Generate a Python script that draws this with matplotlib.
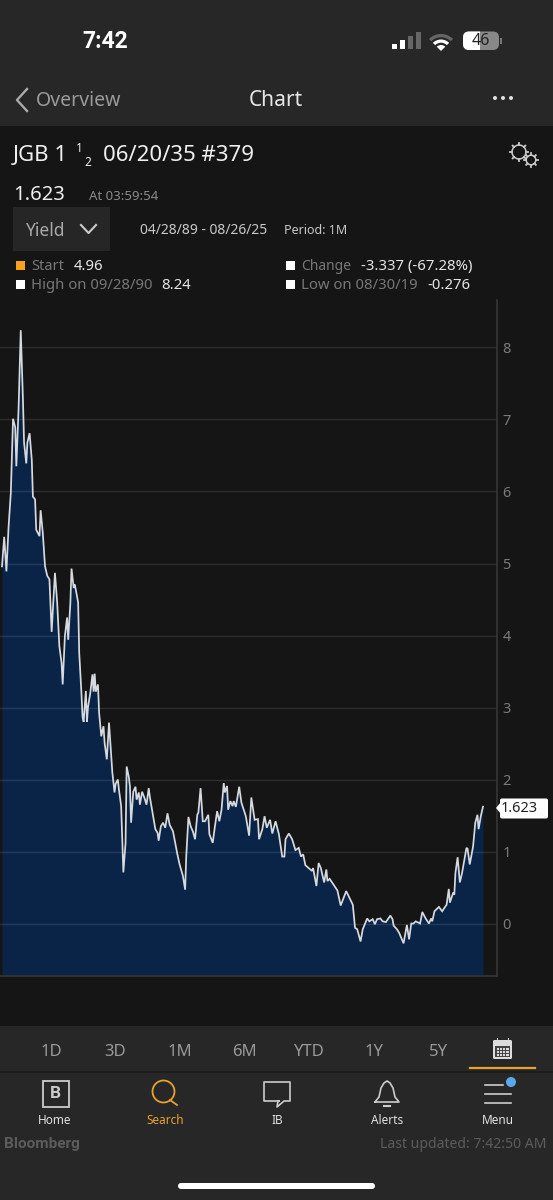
import matplotlib
matplotlib.use("Agg")
import matplotlib.pyplot as plt
import numpy as np
from matplotlib.patches import Rectangle, FancyBboxPatch, Circle, Wedge, Polygon

plt.rcParams['font.family'] = ['Noto Sans', 'DejaVu Sans']

# months since April 1989
months = [0,2,4,6,8,10,12,13,15,17,19,20,22,23,25,27,28,30,31,34,35,37,39,41,43,45,47,48,50,52,54,55,57,59,60,
          62,63,65,66,68,69,70,72,73,74,76,77,78,80,82,83,84,85,87,88,90,92,93,95,97,99,100,102,103,105,106,108,
          110,112,113,115,116,117,119,121,122,124,125,127,129,131,133,134,136,139,141,142,144,146,148,150,152,155,
          157,159,161,164,166,167,169,171,173,175,177,178,180,182,184,187,188,191,193,195,197,199,201,202,204,205,
          207,209,210,212,215,217,221,224,226,229,232,233,236,238,240,243,245,248,251,254,256,257,260,263,266,269,
          271,273,275,281,282,285,287,289,292,294,295,297,304,307,312,318,320,322,325,327,331,333,336,338,340,343,
          345,348,352,354,355,358,360,364,367,369,371,373,375,379,381,384,387,389,390,392,396,399,402,403,405,406,
          409,410,411,413,415,417,421,422,424,427,429,431,432,434,436]
yields = [4.96,5.37,4.89,5.52,5.98,7.01,6.89,6.35,7.14,8.24,7.27,6.68,6.39,6.68,6.81,6.44,5.93,5.89,5.47,5.38,5.74,
          5.42,4.96,4.83,4.78,4.05,4.59,4.87,4.46,3.85,3.62,3.32,3.99,4.25,3.94,4.46,4.93,4.66,4.71,4.54,4.46,3.76,
          3.20,2.87,2.80,3.23,2.80,3.01,3.20,3.46,3.22,3.47,3.22,3.32,2.93,2.60,2.74,2.51,2.28,2.79,2.32,2.10,1.82,
          1.94,2.00,1.86,1.63,0.71,1.12,2.18,2.03,1.90,1.40,1.83,1.90,1.72,1.82,1.65,1.83,1.75,1.65,1.88,1.76,1.58,
          1.31,1.26,1.15,1.35,1.40,1.33,1.53,1.37,1.28,1.12,0.96,0.82,0.66,0.47,0.93,1.48,1.35,1.28,1.17,1.51,1.54,
          1.88,1.42,1.42,1.51,1.24,1.12,1.35,1.56,1.42,1.58,1.95,1.82,1.91,1.58,1.70,1.63,1.70,1.62,1.90,1.68,1.49,
          1.22,1.75,1.44,1.45,1.17,1.31,1.49,1.33,1.44,1.25,1.42,1.24,0.93,0.93,1.17,1.25,1.17,1.02,1.05,0.93,0.96,
          0.81,0.73,0.77,0.52,0.84,0.77,0.57,0.75,0.59,0.62,0.46,0.25,0.45,0.26,-0.06,-0.08,-0.25,-0.08,0.07,0.03,
          0.06,-0.01,0.06,0.07,0.03,0.02,0.11,0.06,-0.03,-0.08,-0.13,-0.276,-0.02,-0.22,0.0,0.0,0.03,0.0,0.16,0.07,
          0.0,0.07,0.03,0.17,0.23,0.17,0.24,0.26,0.48,0.29,0.43,0.40,0.70,0.92,0.57,0.70,1.05,1.04,0.82,1.07,1.40,
          1.51,1.31,1.49,1.623]
ytick_vals = [0,1,2,3,4,5,6,7,8]
ranges = ['1D','3D','1M','6M','YTD','1Y','5Y']
nav_labels = ['Home','Search','IB','Alerts','Menu']

W, H = 553, 1200
BG = '#151515'; BAR = '#272727'; FILL = '#0a2448'
fig = plt.figure(figsize=(W/100, H/100), dpi=100, facecolor=BG)

ui = fig.add_axes([0,0,1,1], zorder=0)
ui.set_xlim(0,W); ui.set_ylim(H,0); ui.axis('off')

def T(x,y,s,size=10,c='#ffffff',ha='left',va='center',**k):
    ui.text(x,y+1.5,s,fontsize=size,color=c,ha=ha,va=va,**k)

ui.add_patch(Rectangle((0,0),W,126,fc=BAR,ec='none'))
ui.add_patch(Rectangle((0,1026),W,174,fc=BAR,ec='none'))
ui.plot([0,W],[1071.5,1071.5],color='#1a1a1a',lw=1.2)

# status bar
T(105,39.5,'7:42',16.5,'#ffffff',ha='center',fontweight='bold',family='Roboto')
for x,h,c in zip([393,401,409,417],[5,9,13,17],['#fff','#fff','#666','#666']):
    ui.add_patch(Rectangle((x-1,49-h),5,h,fc=c,ec='none'))
for r,c in zip([17,11.5,6],['#666','#fff','#fff']):
    ui.add_patch(Wedge((441,51),r,-135,-45,width=3.2 if r>6 else 6,fc=c,ec='none'))
batt = FancyBboxPatch((463,31.5),36,18.5,boxstyle='round,pad=0,rounding_size=6',fc='#888888',ec='none')
ui.add_patch(batt)
white = Rectangle((463,31),17,20,fc='#ffffff',ec='none')
ui.add_patch(white); white.set_clip_path(batt)
T(481,39.5,'46',11.5,'#222222',ha='center')
ui.add_patch(Rectangle((500,38),2,6,fc='#777777',ec='none'))

# nav
ui.plot([27,17,27],[89,100,111],color='#aaaaaa',lw=1.7)
T(36,99,'Overview',14,'#9a9a9a')
T(276,99,'Chart',15,'#e6e6e6',ha='center',fontweight='medium')
for x in [495,503,511]:
    ui.add_patch(Circle((x,98),2,fc='#e0e0e0',ec='none'))

# header
T(13,154,'JGB 1',16,'#f0f0f0')
T(76,147,'1',8.5,'#f0f0f0'); T(84,161,'2',8.5,'#f0f0f0')
T(103,154,'06/20/35 #379',16,'#f0f0f0')
for cx,cy,r,nt in [(519,152,7,8),(531,160,4.8,8)]:
    ui.add_patch(Circle((cx,cy),r,fc='none',ec='#cccccc',lw=1.1))
    for a in np.linspace(0,2*np.pi,nt,endpoint=False):
        ui.plot([cx+r*np.cos(a),cx+(r+2)*np.cos(a)],[cy+r*np.sin(a),cy+(r+2)*np.sin(a)],color='#cccccc',lw=1.3)
T(13,193.5,'1.623',14.5,'#eeeeee')
T(89,195,'At 03:59:54',9.5,'#8a8a8a')
ui.add_patch(Rectangle((13,207),97,44,fc='#262626',ec='none'))
T(25,229.5,'Yield',12.5,'#aaaaaa')
ui.plot([81,88.5,96],[225,233,225],color='#cccccc',lw=1.5)
T(140,229,'04/28/89 - 08/26/25',10,'#c8c8c8')
T(284,229,'Period: 1M',9,'#c8c8c8')

rows = [(16,266,'#f7a020','Start','4.96',31,74,10.5),(16,285,'#ffffff','High on 09/28/90','8.24',31,161,10.7),
        (286,266,'#ffffff','Change','-3.337 (-67.28%)',301,361,10),(286,285,'#ffffff','Low on 08/30/19','-0.276',301,427,10.7)]
for sx,y,c,l,v,lx,vx,ls in rows:
    ui.add_patch(Rectangle((sx,y-5),9,9,fc=c,ec='none'))
    T(lx,y-1,l,ls,'#777777'); T(vx,y-1,v,10.7,'#e6e6e6')

# bottom tabs
for x,s in zip([51,115,180,244,309,374,438],ranges):
    T(x,1050,s,12,'#999999',ha='center')
ui.add_patch(FancyBboxPatch((493,1040),19,19,boxstyle='round,pad=0,rounding_size=1.5',fc='#dddddd',ec='none'))
for tx in [497,508]:
    ui.add_patch(Rectangle((tx-0.5,1038),1.5,3,fc='#dddddd',ec='none'))
ui.add_patch(Rectangle((495,1046),15,11,fc='#444444',ec='none'))
for gx in [496.5,499.8,503.1,506.4]:
    for gy in [1047.5,1050.5,1053.5]:
        ui.add_patch(Rectangle((gx,gy),2.2,2.2,fc='#dddddd',ec='none'))
ui.plot([470,535],[1068,1068],color='#e8a030',lw=1.6)

# bottom nav
ui.add_patch(Rectangle((42.5,1081),26,26,fc='none',ec='#cccccc',lw=1.3))
T(55.5,1092.5,'B',12.5,'#cccccc',ha='center',fontweight='bold',family='Roboto')
ui.add_patch(Circle((163.5,1091.5),11,fc='none',ec='#e8a030',lw=1.3))
ui.plot([170,177],[1100,1105],color='#e8a030',lw=1.3)
ui.plot([279,264,264,290,290,284,277,278,279],[1101,1101,1082,1082,1101,1101,1107,1101,1101],color='#cccccc',lw=1.2)
ui.plot([375,379,381,384,387,390,393,395,399,375],[1102,1097,1088,1083,1081,1083,1088,1097,1102,1102],color='#cccccc',lw=1.2)
ui.plot([384,390],[1105.5,1105.5],color='#cccccc',lw=1.5)
for y,x1 in [(1085,503),(1094,511),(1103,511)]:
    ui.plot([485,x1],[y,y],color='#cccccc',lw=1.2)
ui.add_patch(Circle((511,1082),5,fc='#5aa7f0',ec='none'))
for x,s,c in zip([55,165,277,387,498],nav_labels,['#e0e0e0','#e8a030','#e0e0e0','#e0e0e0','#e0e0e0']):
    T(x,1119,s,8.5,c,ha='center')
T(4,1142.5,'Bloomberg',11,'#5c5c5c',fontweight='bold',family='Roboto')
T(547,1143.5,'Last updated: 7:42:50 AM',10.1,'#5c5c5c',ha='right')
ui.add_patch(FancyBboxPatch((178,1183),197,6,boxstyle='round,pad=0,rounding_size=3',fc='#ffffff',ec='none'))

# chart
ax = fig.add_axes([0,1-976/H,497/W,(976-300)/H], zorder=1, facecolor='none')
px_m = 481/436
ax.set_xlim(-2/px_m,(497-2)/px_m)
ax.set_ylim((923.5-976)/72,(923.5-300)/72)
ax.fill_between(months,yields,ax.get_ylim()[0],color=FILL,lw=0,zorder=1)
ax.plot(months,yields,color='#d6dadf',lw=1.25,solid_joinstyle='miter',zorder=3)
ax.yaxis.tick_right()
ax.set_yticks(ytick_vals)
ax.set_xticks([])
ax.grid(axis='y',color='#ffffff',alpha=0.11,lw=1,zorder=2)
ax.tick_params(axis='y',length=0,pad=4,labelcolor='#7a7a7a',labelsize=10.5)
for s in ['top','left']:
    ax.spines[s].set_visible(False)
for s in ['right','bottom']:
    ax.spines[s].set_color('#363636'); ax.spines[s].set_linewidth(1.2)
ui2 = fig.add_axes([0,0,1,1],zorder=2,facecolor='none'); ui2.set_xlim(0,W); ui2.set_ylim(H,0); ui2.axis('off')
ui2.add_patch(Polygon([[496,808],[501,802],[501,814]],fc='#ffffff',ec='none'))
ui2.add_patch(FancyBboxPatch((500,798.5),48,20,boxstyle='round,pad=0,rounding_size=2',fc='#ffffff',ec='none'))
ui2.text(500.5,809,'1.623',fontsize=10.5,color='#222222',ha='left',va='center')

fig.savefig('out.png',dpi=100,facecolor=BG)
